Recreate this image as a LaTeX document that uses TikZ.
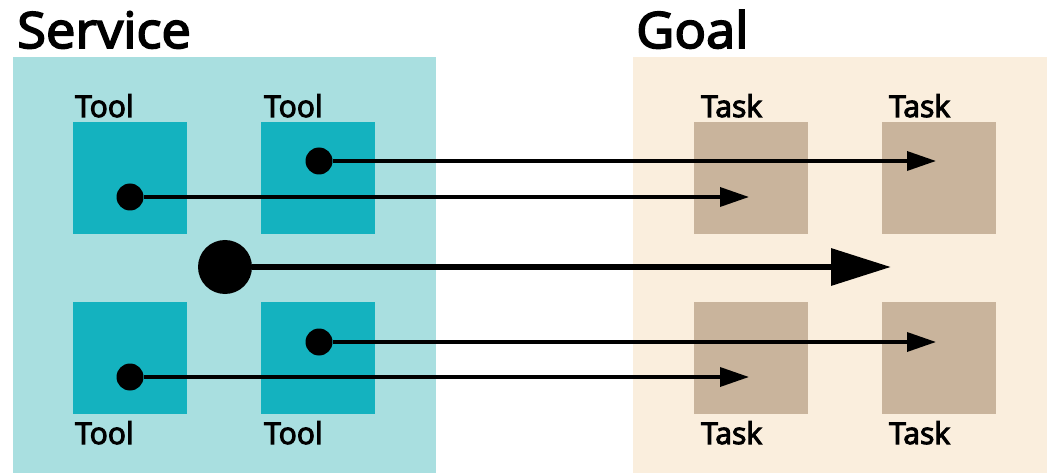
\documentclass[tikz,border=0pt]{standalone}
\usepackage{fontspec}
\setmainfont{Open Sans}
\newfontfamily\semibold[FakeBold=3.5]{Open Sans}
\newfontfamily\headingfont[FakeBold=3.5, FakeStretch=1.05]{Open Sans}
\usetikzlibrary{arrows.meta}
\definecolor{servicebg}{HTML}{A9DFE0}
\definecolor{toolfill}{HTML}{14B2BF}
\definecolor{goalbg}{HTML}{FAEEDD}
\definecolor{taskfill}{HTML}{C9B49C}
\tikzset{
  panel/.style={draw=none, rectangle, inner sep=0pt, anchor=north west},
  toolbox/.style={rectangle, fill=toolfill, minimum width=114pt, minimum height=112pt, inner sep=0pt, anchor=north west},
  taskbox/.style={rectangle, fill=taskfill, minimum width=114pt, minimum height=112pt, inner sep=0pt, anchor=north west},
  title/.style={inner sep=0pt, anchor=base west, font=\fontsize{50}{56}\headingfont},
  boxlabel/.style={inner sep=0pt, anchor=base west, font=\fontsize{30}{34}\semibold},
  dot/.style={circle, fill=black, inner sep=0pt, minimum size=27pt},
  bigdot/.style={circle, fill=black, inner sep=0pt, minimum size=54pt},
  link/.style={line width=3.5pt, -{Triangle[length=29pt, width=19pt]}},
  mainlink/.style={line width=6.5pt, -{Triangle[length=60pt, width=36pt]}}
}
\begin{document}
\begin{tikzpicture}[x=1pt, y=-1pt]
  \useasboundingbox (0,0) rectangle (1047,473);
  \fill[white] (0,0) rectangle (1047,473);

  % panels
  \node[panel, fill=servicebg, minimum width=423pt, minimum height=416pt] (service) at (13,57) {};
  \node[panel, fill=goalbg, minimum width=414pt, minimum height=416pt] (goal) at (633,57) {};
  \node[title] (servicetitle) at (17,48) {Service};
  \node[title] (goaltitle) at (636,48) {Goal};

  % tools
  \node[toolbox] (t1) at (73,122) {};
  \node[toolbox] (t2) at (261,122) {};
  \node[toolbox] (t3) at (73,302) {};
  \node[toolbox] (t4) at (261,302) {};
  \node[boxlabel] (l1) at (75,117) {Tool};
  \node[boxlabel] (l2) at (264,117) {Tool};
  \node[boxlabel] (l3) at (75,444) {Tool};
  \node[boxlabel] (l4) at (264,444) {Tool};

  % tasks
  \node[taskbox] (k1) at (694,122) {};
  \node[taskbox] (k2) at (882,122) {};
  \node[taskbox] (k3) at (694,302) {};
  \node[taskbox] (k4) at (882,302) {};
  \node[boxlabel] (m1) at (701,117) {Task};
  \node[boxlabel] (m2) at (889,117) {Task};
  \node[boxlabel] (m3) at (701,444) {Task};
  \node[boxlabel] (m4) at (889,444) {Task};

  % sources
  \node[dot] (d1) at (319,161) {};
  \node[dot] (d2) at (130,197) {};
  \node[bigdot] (d0) at (225,267) {};
  \node[dot] (d3) at (319,342) {};
  \node[dot] (d4) at (130,377) {};

  % targets
  \coordinate (e1) at (936,161);
  \coordinate (e2) at (749,197);
  \coordinate (e0) at (891,267);
  \coordinate (e3) at (936,342);
  \coordinate (e4) at (749,377);

  \draw[link] (d1) -- (e1);
  \draw[link] (d2) -- (e2);
  \draw[mainlink] (d0) -- (e0);
  \draw[link] (d3) -- (e3);
  \draw[link] (d4) -- (e4);
\end{tikzpicture}
\end{document}
